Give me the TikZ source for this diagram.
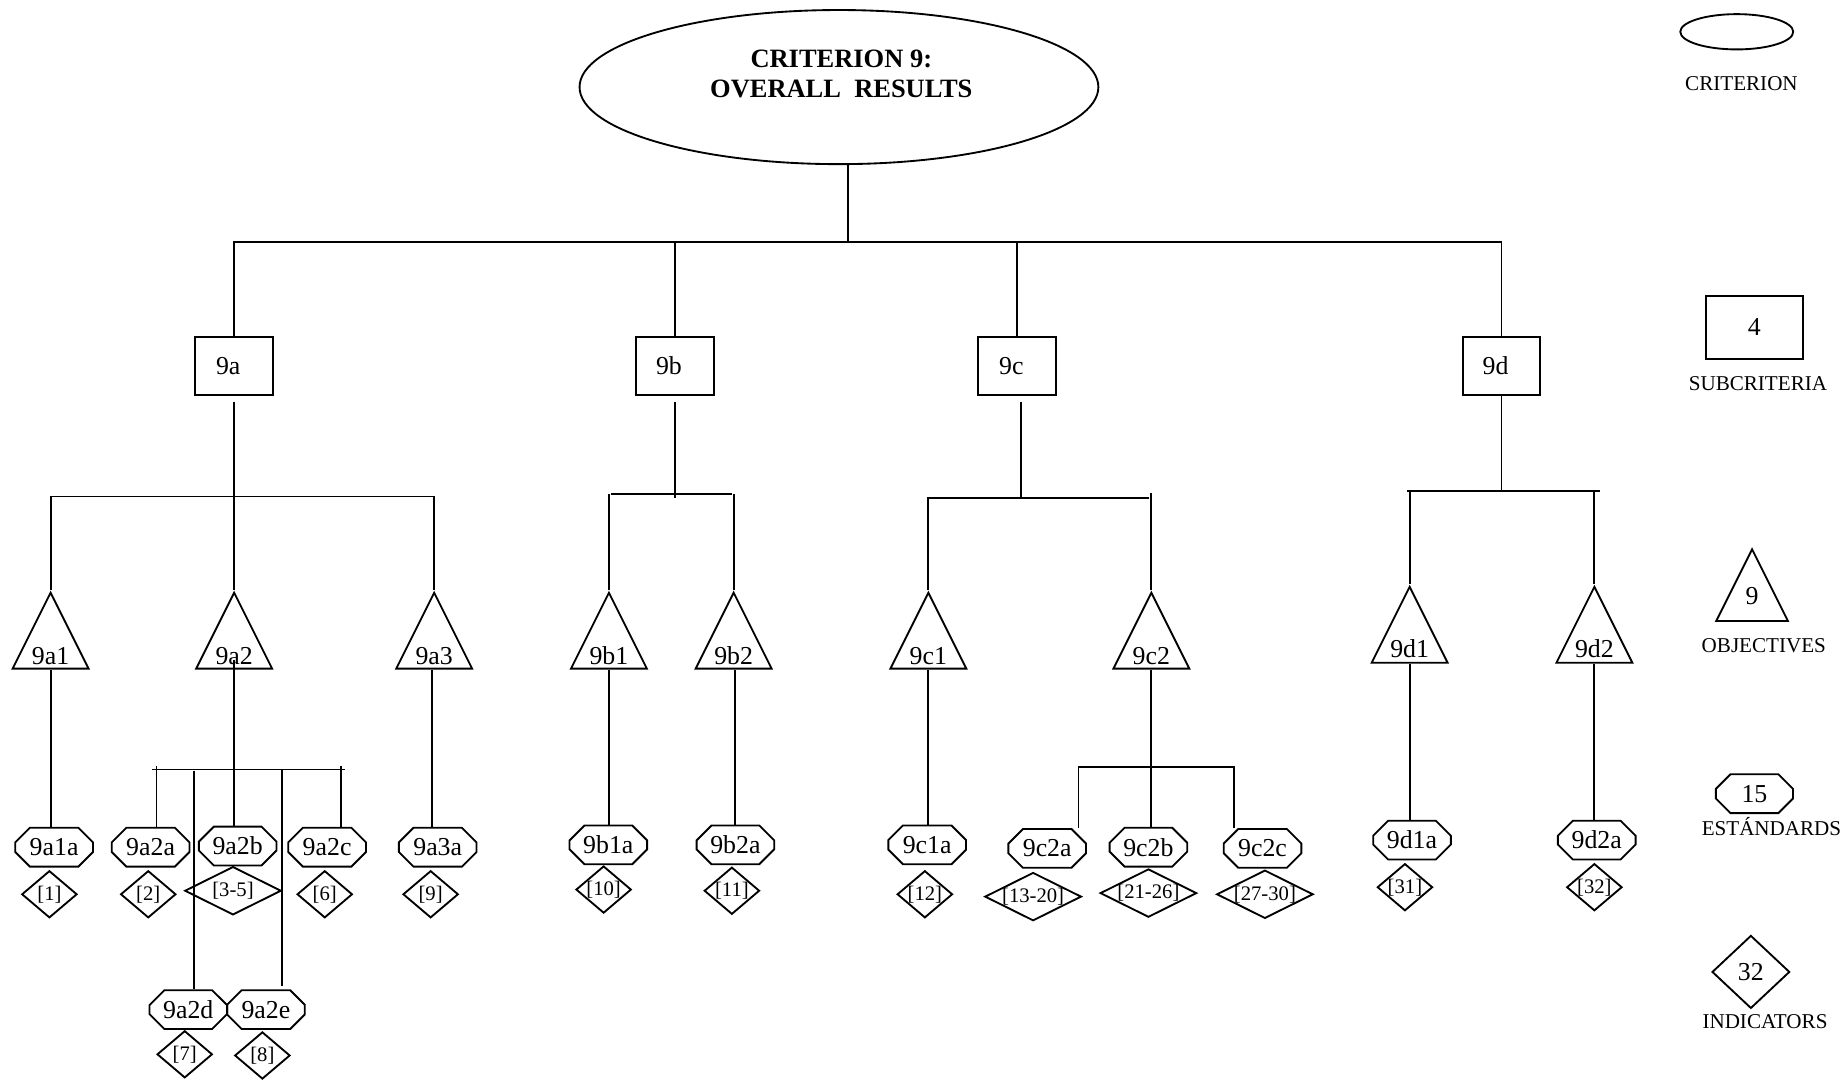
\documentclass[tikz,border=0pt]{standalone}
\usepackage{fontspec}
\setmainfont{Liberation Serif}
\usetikzlibrary{shapes.geometric,shapes.misc,calc,positioning}
\newcommand\lblfont{\fontsize{12.5}{14}\selectfont}
\newcommand\indfont{\fontsize{10}{12}\selectfont}
\newcommand\legfont{\fontsize{10.2}{12}\selectfont}
\newcommand\indtxt[1]{\makebox[0pt]{#1}}
\tikzset{
  crit/.style={draw, ellipse, inner sep=0pt},
  crittxt/.style={inner sep=0pt, align=center, font=\fontsize{12.8}{14.5}\selectfont\bfseries},
  subbox/.style={draw, rectangle, minimum width=1.32cm, minimum height=0.98cm, inner sep=0pt, font=\lblfont},
  subcrit/.style={subbox, execute at end node={\hspace*{5.7pt}}},
  objtri/.style={draw, isosceles triangle, isosceles triangle stretches, shape border rotate=90,
    minimum width=1.29cm, minimum height=1.29cm, inner sep=0pt, anchor=lower side},
  stdoct/.style={draw, chamfered rectangle, chamfered rectangle xsep=0.17cm, chamfered rectangle ysep=0.1cm,
    minimum width=1.32cm, minimum height=0.66cm, inner sep=0pt, font=\lblfont},
  ind/.style={draw, diamond, minimum width=0.94cm, minimum height=0.8cm, inner sep=0pt, font=\indfont},
  indwide/.style={ind, minimum width=1.64cm, minimum height=0.82cm},
  lbl/.style={inner sep=0pt, anchor=base, font=\lblfont},
  legtxt/.style={inner sep=0pt, text height=7pt, text depth=0pt, font=\legfont}
}

\begin{document}
\begin{tikzpicture}[x=0.02cm, y=-0.02cm, line width=0.9pt]
\useasboundingbox (0,0) rectangle (1568,917);

% criterion
\node[crit, minimum width=8.82cm, minimum height=2.62cm] (r9) at (713,74) {};
\node[crittxt] (r9t) at (715,63) {CRITERION 9:\\OVERALL\ \ RESULTS};

% subcriteria
\node[subcrit] (s9a) at (199,311) {9a};
\node[subcrit] (s9b) at (573.5,311) {9b};
\node[subcrit] (s9c) at (864.5,311) {9c};
\node[subcrit] (s9d) at (1276,311) {9d};

% objectives
\node[objtri] (o9a1) at (43,569) {};
\node[objtri] (o9a2) at (199,569) {};
\node[objtri] (o9a3) at (369,569) {};
\node[objtri] (o9b1) at (517.5,569) {};
\node[objtri] (o9b2) at (623.5,569) {};
\node[objtri] (o9c1) at (789,569) {};
\node[objtri] (o9c2) at (978.5,569) {};
\node[objtri] (o9d1) at (1198,564) {};
\node[objtri] (o9d2) at (1355,564) {};

\node[lbl] (t9a1) at ($(o9a1.lower side)+(0,-4.5)$) {9a1};
\node[lbl] (t9a2) at ($(o9a2.lower side)+(0,-4.5)$) {9a2};
\node[lbl] (t9a3) at ($(o9a3.lower side)+(0,-4.5)$) {9a3};
\node[lbl] (t9b1) at ($(o9b1.lower side)+(0,-4.5)$) {9b1};
\node[lbl] (t9b2) at ($(o9b2.lower side)+(0,-4.5)$) {9b2};
\node[lbl] (t9c1) at ($(o9c1.lower side)+(0,-4.5)$) {9c1};
\node[lbl] (t9c2) at ($(o9c2.lower side)+(0,-4.5)$) {9c2};
\node[lbl] (t9d1) at ($(o9d1.lower side)+(0,-5.5)$) {9d1};
\node[lbl] (t9d2) at ($(o9d2.lower side)+(0,-5.5)$) {9d2};

% standards
\node[stdoct] (e9a1a) at (46,720) {9a1a};
\node[stdoct] (e9a2a) at (128,720) {9a2a};
\node[stdoct] (e9a2b) at (202,719) {9a2b};
\node[stdoct] (e9a2c) at (278,720) {9a2c};
\node[stdoct] (e9a3a) at (372,720) {9a3a};
\node[stdoct] (e9a2d) at (160,858) {9a2d};
\node[stdoct] (e9a2e) at (226,858) {9a2e};
\node[stdoct] (e9b1a) at (517,718) {9b1a};
\node[stdoct] (e9b2a) at (625,718) {9b2a};
\node[stdoct] (e9c1a) at (788,718) {9c1a};
\node[stdoct] (e9c2a) at (890,721) {9c2a};
\node[stdoct] (e9c2b) at (976,720) {9c2b};
\node[stdoct] (e9c2c) at (1073,721) {9c2c};
\node[stdoct] (e9d1a) at (1200,714) {9d1a};
\node[stdoct] (e9d2a) at (1357,714) {9d2a};

% indicators
\node[ind] (i1) at (42,760) {\indtxt{[1]}};
\node[ind] (i2) at (126,760) {\indtxt{[2]}};
\node[indwide] (i3) at (198,757) {\indtxt{[3-5]}};
\node[ind] (i6) at (276,760) {\indtxt{[6]}};
\node[ind] (i9) at (366,760) {\indtxt{[9]}};
\node[ind] (i7) at (157,896) {\indtxt{[7]}};
\node[ind] (i8) at (223,897) {\indtxt{[8]}};
\node[ind] (i10) at (513,756) {\indtxt{[10]}};
\node[ind] (i11) at (622,757) {\indtxt{[11]}};
\node[ind] (i12) at (786,760) {\indtxt{[12]}};
\node[indwide] (i13) at (878,762) {\indtxt{[13-20]}};
\node[indwide] (i21) at (976,759) {\indtxt{[21-26]}};
\node[indwide] (i27) at (1075,760) {\indtxt{[27-30]}};
\node[ind] (i31) at (1194,754) {\indtxt{[31]}};
\node[ind] (i32) at (1355,754) {\indtxt{[32]}};

% criterion to subcriteria
\coordinate (bar) at (0,205.5);
\draw ($(r9.south)+(8,0)$) -- ($(r9.south)+(8,66)$);
\draw (s9a.north) -- (s9a.north |- bar) -- (s9d.north |- bar) -- (s9d.north);
\draw (s9b.north) -- (s9b.north |- bar);
\draw (s9c.north) -- (s9c.north |- bar);

% subcriteria to objectives
\coordinate (b9a) at (0,422);
\draw ($(s9a.south)+(0,5)$) -- (o9a2.apex);
\draw (o9a1.apex) -- (o9a1.apex |- b9a) -- (o9a3.apex |- b9a) -- (o9a3.apex);

\coordinate (b9b) at (0,420);
\draw ($(s9b.south)+(0,5)$) -- ++(0,82);
\draw ($(o9b1.apex |- b9b)+(2,0)$) -- ($(o9b2.apex |- b9b)+(-1,0)$);
\draw (o9b1.apex) -- ++(0,-82);
\draw (o9b2.apex) -- ++(0,-82);

\coordinate (b9c) at (0,423.4);
\draw ($(s9c.south)+(3,5)$) -- ++(0,82);
\draw (o9c1.apex) -- (o9c1.apex |- b9c) -- ($(o9c2.apex |- b9c)+(-2,0)$);
\draw (o9c2.apex) -- ++(0,-82.5);

\coordinate (b9d) at (0,417.3);
\draw (s9d.south) -- (s9d.south |- b9d);
\draw ($(o9d1.apex |- b9d)+(-2,0)$) -- ($(o9d2.apex |- b9d)+(4.5,0)$);
\draw (o9d1.apex) -- (o9d1.apex |- b9d);
\draw (o9d2.apex) -- (o9d2.apex |- b9d);

% objectives to standards
\draw (o9a1.lower side) -- (o9a1.lower side |- e9a1a.north);
\draw ($(o9a3.lower side)+(-2,0)$) -- ($(o9a3.lower side |- e9a3a.north)+(-2,0)$);
\draw (o9b1.lower side) -- (o9b1.lower side |- e9b1a.north);
\draw (e9b2a.north) -- (e9b2a.north |- o9b2.lower side);
\draw (o9c1.lower side) -- (o9c1.lower side |- e9c1a.north);
\draw (o9d1.lower side) -- (o9d1.lower side |- e9d1a.north);
\draw (o9d2.lower side) -- (o9d2.lower side |- e9d2a.north);

\coordinate (b9a2) at (0,654);
\draw ($(o9a2.lower side)+(0,-8)$) -- (o9a2.lower side |- e9a2b.north);
\draw ($(e9a2a.north |- b9a2)+(1,0)$) -- ($(e9a2c.north |- b9a2)+(15,0)$);
\draw ($(e9a2a.north)+(5,-52)$) -- ($(e9a2a.north)+(5,0)$);
\draw ($(e9a2c.north)+(11.5,-52)$) -- ($(e9a2c.north)+(11.5,0)$);
\draw ($(e9a2d.north |- b9a2)+(5,1)$) -- ($(e9a2d.north)+(5,0)$);
\draw ($(e9a2e.north |- b9a2)+(14,0)$) -- ($(e9a2e.north)+(14,-3)$);

\draw (o9c2.lower side) -- (o9c2.lower side |- e9c2b.north);
\draw ($(e9c2a.north)+(26.6,0)$) |- ($(e9c2c.north)+(-24,-52)$) -- ($(e9c2c.north)+(-24,0)$);

% legend
\node[crit, minimum width=1.92cm, minimum height=0.6cm] (lcrit) at (1476,27) {};
\node[legtxt] (lcritl) at (1480,71) {CRITERION};
\node[subbox, minimum width=1.64cm, minimum height=1.07cm] (lsub) at (1491,278) {4};
\node[legtxt] (lsubl) at (1494,326) {SUBCRITERIA};
\node[objtri, minimum width=1.22cm, minimum height=1.22cm] (lobj) at (1489,528.6) {};
\node[lbl] (lobjt) at ($(lobj.lower side)+(0,-15)$) {9};
\node[legtxt] (lobjl) at (1499,548) {OBJECTIVES};
\node[stdoct, minimum width=1.31cm] (lstd) at (1491,674.5) {15};
\node[legtxt] (lstdl) at (1505.5,704) {ESTÁNDARDS};
\node[ind, minimum width=1.32cm, minimum height=1.24cm, font=\lblfont] (lind) at (1488,826) {32};
\node[legtxt] (lindl) at (1500,868) {INDICATORS};
\end{tikzpicture}
\end{document}
